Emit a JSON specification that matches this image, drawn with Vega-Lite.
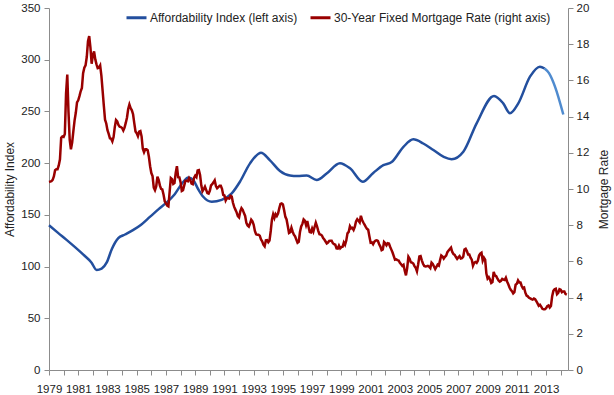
{
"$schema":"https://vega.github.io/schema/vega-lite/v6.json",
"width":519,"height":362,
"autosize":{"type":"none"},
"padding":{"left":49,"top":8,"right":46,"bottom":25},
"config":{"font":"Liberation Sans","view":{"stroke":null},
"axis":{"grid":false,"domainColor":"#8c8c8c","tickColor":"#8c8c8c","labelColor":"#222222","labelFontSize":11.5,"titleFontSize":12,"titleFontWeight":"normal","titleColor":"#222222","tickSize":5}},
"datasets":{
"aff":[
{"t":1979.0,"v":140},{"t":1979.6,"v":132.8},{"t":1980.2,"v":125.8},{"t":1980.8,"v":118.5},{"t":1981.35,"v":111.5},{"t":1981.9,"v":104},{"t":1982.26,"v":96.7},{"t":1982.6,"v":98},{"t":1982.95,"v":104},{"t":1983.3,"v":117},{"t":1983.74,"v":127.5},{"t":1984.2,"v":131},{"t":1984.77,"v":135.5},{"t":1985.3,"v":140.5},{"t":1985.9,"v":148},{"t":1986.5,"v":155.5},{"t":1987.05,"v":162},{"t":1987.6,"v":170},{"t":1988.19,"v":182},{"t":1988.53,"v":186},{"t":1988.87,"v":183.5},{"t":1989.2,"v":175},{"t":1989.55,"v":167.5},{"t":1990.13,"v":162.7},{"t":1990.81,"v":164.5},{"t":1991.5,"v":170.8},{"t":1992.06,"v":182},{"t":1992.75,"v":199.8},{"t":1993.5,"v":210.1},{"t":1994.1,"v":203},{"t":1994.8,"v":192.5},{"t":1995.48,"v":188},{"t":1996.0,"v":187.5},{"t":1996.63,"v":188},{"t":1997.31,"v":183.7},{"t":1997.99,"v":190},{"t":1998.9,"v":200},{"t":1999.59,"v":195},{"t":2000.46,"v":182},{"t":2001.18,"v":190.5},{"t":2001.87,"v":198},{"t":2002.44,"v":201},{"t":2003.23,"v":215.5},{"t":2003.92,"v":223},{"t":2004.6,"v":219},{"t":2005.29,"v":212.7},{"t":2006.0,"v":206},{"t":2006.54,"v":203.7},{"t":2007.34,"v":211},{"t":2008.25,"v":238.5},{"t":2009.44,"v":265},{"t":2010.07,"v":257.8},{"t":2010.53,"v":248.2},{"t":2011.1,"v":257.8},{"t":2011.9,"v":283.6},{"t":2012.58,"v":293.3},{"t":2012.9,"v":291.5}
],
"aff2":[
{"t":2012.9,"v":291.5},{"t":2013.2,"v":287},{"t":2013.61,"v":274},{"t":2014.18,"v":247}
],
"rate":[
{"t":1979.000,"r":10.39},{"t":1979.083,"r":10.41},{"t":1979.167,"r":10.43},{"t":1979.250,"r":10.50},{"t":1979.333,"r":10.69},{"t":1979.417,"r":11.04},{"t":1979.500,"r":11.09},{"t":1979.583,"r":11.09},{"t":1979.667,"r":11.30},{"t":1979.750,"r":11.64},{"t":1979.833,"r":12.83},{"t":1979.917,"r":12.90},
{"t":1980.000,"r":12.88},{"t":1980.083,"r":13.04},{"t":1980.167,"r":15.28},{"t":1980.250,"r":16.32},{"t":1980.333,"r":14.26},{"t":1980.417,"r":12.71},{"t":1980.500,"r":12.19},{"t":1980.583,"r":12.56},{"t":1980.667,"r":13.20},{"t":1980.750,"r":13.79},{"t":1980.833,"r":14.21},{"t":1980.917,"r":14.79},
{"t":1981.000,"r":14.90},{"t":1981.083,"r":15.13},{"t":1981.167,"r":15.40},{"t":1981.250,"r":15.58},{"t":1981.333,"r":16.40},{"t":1981.417,"r":16.70},{"t":1981.500,"r":16.83},{"t":1981.583,"r":17.29},{"t":1981.667,"r":18.16},{"t":1981.750,"r":18.45},{"t":1981.833,"r":17.83},{"t":1981.917,"r":16.92},
{"t":1982.000,"r":17.40},{"t":1982.083,"r":17.60},{"t":1982.167,"r":17.16},{"t":1982.250,"r":16.89},{"t":1982.333,"r":16.68},{"t":1982.417,"r":16.70},{"t":1982.500,"r":16.82},{"t":1982.583,"r":16.27},{"t":1982.667,"r":15.43},{"t":1982.750,"r":14.61},{"t":1982.833,"r":13.83},{"t":1982.917,"r":13.62},
{"t":1983.000,"r":13.25},{"t":1983.083,"r":13.04},{"t":1983.167,"r":12.80},{"t":1983.250,"r":12.78},{"t":1983.333,"r":12.63},{"t":1983.417,"r":12.87},{"t":1983.500,"r":13.42},{"t":1983.583,"r":13.81},{"t":1983.667,"r":13.73},{"t":1983.750,"r":13.54},{"t":1983.833,"r":13.44},{"t":1983.917,"r":13.42},
{"t":1984.000,"r":13.37},{"t":1984.083,"r":13.23},{"t":1984.167,"r":13.39},{"t":1984.250,"r":13.65},{"t":1984.333,"r":13.94},{"t":1984.417,"r":14.42},{"t":1984.500,"r":14.67},{"t":1984.583,"r":14.47},{"t":1984.667,"r":14.35},{"t":1984.750,"r":14.13},{"t":1984.833,"r":13.64},{"t":1984.917,"r":13.18},
{"t":1985.000,"r":13.08},{"t":1985.083,"r":12.92},{"t":1985.167,"r":13.17},{"t":1985.250,"r":13.20},{"t":1985.333,"r":12.91},{"t":1985.417,"r":12.22},{"t":1985.500,"r":12.03},{"t":1985.583,"r":12.19},{"t":1985.667,"r":12.19},{"t":1985.750,"r":12.14},{"t":1985.833,"r":11.78},{"t":1985.917,"r":11.26},
{"t":1986.000,"r":10.88},{"t":1986.083,"r":10.71},{"t":1986.167,"r":10.08},{"t":1986.250,"r":9.94},{"t":1986.333,"r":10.14},{"t":1986.417,"r":10.68},{"t":1986.500,"r":10.51},{"t":1986.583,"r":10.20},{"t":1986.667,"r":10.01},{"t":1986.750,"r":9.98},{"t":1986.833,"r":9.70},{"t":1986.917,"r":9.32},
{"t":1987.000,"r":9.20},{"t":1987.083,"r":9.08},{"t":1987.167,"r":9.04},{"t":1987.250,"r":9.83},{"t":1987.333,"r":10.60},{"t":1987.417,"r":10.54},{"t":1987.500,"r":10.28},{"t":1987.583,"r":10.33},{"t":1987.667,"r":10.89},{"t":1987.750,"r":11.26},{"t":1987.833,"r":10.65},{"t":1987.917,"r":10.64},
{"t":1988.000,"r":10.38},{"t":1988.083,"r":9.89},{"t":1988.167,"r":9.93},{"t":1988.250,"r":10.20},{"t":1988.333,"r":10.46},{"t":1988.417,"r":10.46},{"t":1988.500,"r":10.43},{"t":1988.583,"r":10.60},{"t":1988.667,"r":10.48},{"t":1988.750,"r":10.30},{"t":1988.833,"r":10.27},{"t":1988.917,"r":10.61},
{"t":1989.000,"r":10.73},{"t":1989.083,"r":10.65},{"t":1989.167,"r":11.03},{"t":1989.250,"r":11.05},{"t":1989.333,"r":10.77},{"t":1989.417,"r":10.20},{"t":1989.500,"r":9.88},{"t":1989.583,"r":9.99},{"t":1989.667,"r":10.13},{"t":1989.750,"r":9.95},{"t":1989.833,"r":9.77},{"t":1989.917,"r":9.74},
{"t":1990.000,"r":9.90},{"t":1990.083,"r":10.20},{"t":1990.167,"r":10.27},{"t":1990.250,"r":10.37},{"t":1990.333,"r":10.48},{"t":1990.417,"r":10.16},{"t":1990.500,"r":10.04},{"t":1990.583,"r":10.10},{"t":1990.667,"r":10.18},{"t":1990.750,"r":10.18},{"t":1990.833,"r":10.01},{"t":1990.917,"r":9.67},
{"t":1991.000,"r":9.64},{"t":1991.083,"r":9.37},{"t":1991.167,"r":9.50},{"t":1991.250,"r":9.49},{"t":1991.333,"r":9.47},{"t":1991.417,"r":9.62},{"t":1991.500,"r":9.58},{"t":1991.583,"r":9.24},{"t":1991.667,"r":9.01},{"t":1991.750,"r":8.86},{"t":1991.833,"r":8.71},{"t":1991.917,"r":8.50},
{"t":1992.000,"r":8.43},{"t":1992.083,"r":8.76},{"t":1992.167,"r":8.94},{"t":1992.250,"r":8.85},{"t":1992.333,"r":8.67},{"t":1992.417,"r":8.51},{"t":1992.500,"r":8.13},{"t":1992.583,"r":7.98},{"t":1992.667,"r":7.92},{"t":1992.750,"r":8.09},{"t":1992.833,"r":8.31},{"t":1992.917,"r":8.22},
{"t":1993.000,"r":8.02},{"t":1993.083,"r":7.68},{"t":1993.167,"r":7.50},{"t":1993.250,"r":7.47},{"t":1993.333,"r":7.47},{"t":1993.417,"r":7.42},{"t":1993.500,"r":7.21},{"t":1993.583,"r":7.11},{"t":1993.667,"r":6.92},{"t":1993.750,"r":6.83},{"t":1993.833,"r":7.16},{"t":1993.917,"r":7.17},
{"t":1994.000,"r":7.06},{"t":1994.083,"r":7.15},{"t":1994.167,"r":7.68},{"t":1994.250,"r":8.32},{"t":1994.333,"r":8.60},{"t":1994.417,"r":8.40},{"t":1994.500,"r":8.61},{"t":1994.583,"r":8.51},{"t":1994.667,"r":8.64},{"t":1994.750,"r":8.93},{"t":1994.833,"r":9.17},{"t":1994.917,"r":9.20},
{"t":1995.000,"r":9.15},{"t":1995.083,"r":8.83},{"t":1995.167,"r":8.46},{"t":1995.250,"r":8.32},{"t":1995.333,"r":7.96},{"t":1995.417,"r":7.57},{"t":1995.500,"r":7.61},{"t":1995.583,"r":7.86},{"t":1995.667,"r":7.64},{"t":1995.750,"r":7.48},{"t":1995.833,"r":7.38},{"t":1995.917,"r":7.20},
{"t":1996.000,"r":7.03},{"t":1996.083,"r":7.08},{"t":1996.167,"r":7.62},{"t":1996.250,"r":7.93},{"t":1996.333,"r":8.07},{"t":1996.417,"r":8.32},{"t":1996.500,"r":8.25},{"t":1996.583,"r":8.00},{"t":1996.667,"r":8.23},{"t":1996.750,"r":7.92},{"t":1996.833,"r":7.62},{"t":1996.917,"r":7.60},
{"t":1997.000,"r":7.82},{"t":1997.083,"r":7.65},{"t":1997.167,"r":7.90},{"t":1997.250,"r":8.14},{"t":1997.333,"r":7.94},{"t":1997.417,"r":7.69},{"t":1997.500,"r":7.50},{"t":1997.583,"r":7.48},{"t":1997.667,"r":7.43},{"t":1997.750,"r":7.29},{"t":1997.833,"r":7.21},{"t":1997.917,"r":7.10},
{"t":1998.000,"r":6.99},{"t":1998.083,"r":7.04},{"t":1998.167,"r":7.13},{"t":1998.250,"r":7.14},{"t":1998.333,"r":7.14},{"t":1998.417,"r":7.00},{"t":1998.500,"r":6.95},{"t":1998.583,"r":6.92},{"t":1998.667,"r":6.72},{"t":1998.750,"r":6.71},{"t":1998.833,"r":6.87},{"t":1998.917,"r":6.72},
{"t":1999.000,"r":6.79},{"t":1999.083,"r":6.81},{"t":1999.167,"r":7.04},{"t":1999.250,"r":6.92},{"t":1999.333,"r":7.15},{"t":1999.417,"r":7.55},{"t":1999.500,"r":7.63},{"t":1999.583,"r":7.94},{"t":1999.667,"r":7.82},{"t":1999.750,"r":7.85},{"t":1999.833,"r":7.74},{"t":1999.917,"r":7.91},
{"t":2000.000,"r":8.21},{"t":2000.083,"r":8.33},{"t":2000.167,"r":8.24},{"t":2000.250,"r":8.15},{"t":2000.333,"r":8.52},{"t":2000.417,"r":8.29},{"t":2000.500,"r":8.15},{"t":2000.583,"r":8.03},{"t":2000.667,"r":7.91},{"t":2000.750,"r":7.80},{"t":2000.833,"r":7.75},{"t":2000.917,"r":7.38},
{"t":2001.000,"r":7.03},{"t":2001.083,"r":7.05},{"t":2001.167,"r":6.95},{"t":2001.250,"r":7.08},{"t":2001.333,"r":7.15},{"t":2001.417,"r":7.16},{"t":2001.500,"r":7.13},{"t":2001.583,"r":6.95},{"t":2001.667,"r":6.82},{"t":2001.750,"r":6.62},{"t":2001.833,"r":6.66},{"t":2001.917,"r":7.07},
{"t":2002.000,"r":7.00},{"t":2002.083,"r":6.89},{"t":2002.167,"r":7.01},{"t":2002.250,"r":6.99},{"t":2002.333,"r":6.81},{"t":2002.417,"r":6.65},{"t":2002.500,"r":6.49},{"t":2002.583,"r":6.29},{"t":2002.667,"r":6.09},{"t":2002.750,"r":6.11},{"t":2002.833,"r":6.07},{"t":2002.917,"r":6.05},
{"t":2003.000,"r":5.92},{"t":2003.083,"r":5.84},{"t":2003.167,"r":5.75},{"t":2003.250,"r":5.81},{"t":2003.333,"r":5.48},{"t":2003.417,"r":5.23},{"t":2003.500,"r":5.63},{"t":2003.583,"r":6.26},{"t":2003.667,"r":6.15},{"t":2003.750,"r":5.95},{"t":2003.833,"r":5.93},{"t":2003.917,"r":5.88},
{"t":2004.000,"r":5.74},{"t":2004.083,"r":5.64},{"t":2004.167,"r":5.45},{"t":2004.250,"r":5.83},{"t":2004.333,"r":6.27},{"t":2004.417,"r":6.29},{"t":2004.500,"r":6.06},{"t":2004.583,"r":5.87},{"t":2004.667,"r":5.75},{"t":2004.750,"r":5.72},{"t":2004.833,"r":5.73},{"t":2004.917,"r":5.75},
{"t":2005.000,"r":5.71},{"t":2005.083,"r":5.63},{"t":2005.167,"r":5.93},{"t":2005.250,"r":5.86},{"t":2005.333,"r":5.72},{"t":2005.417,"r":5.58},{"t":2005.500,"r":5.70},{"t":2005.583,"r":5.82},{"t":2005.667,"r":5.77},{"t":2005.750,"r":6.07},{"t":2005.833,"r":6.33},{"t":2005.917,"r":6.27},
{"t":2006.000,"r":6.15},{"t":2006.083,"r":6.25},{"t":2006.167,"r":6.32},{"t":2006.250,"r":6.51},{"t":2006.333,"r":6.60},{"t":2006.417,"r":6.68},{"t":2006.500,"r":6.76},{"t":2006.583,"r":6.52},{"t":2006.667,"r":6.40},{"t":2006.750,"r":6.36},{"t":2006.833,"r":6.24},{"t":2006.917,"r":6.14},
{"t":2007.000,"r":6.22},{"t":2007.083,"r":6.29},{"t":2007.167,"r":6.16},{"t":2007.250,"r":6.18},{"t":2007.333,"r":6.26},{"t":2007.417,"r":6.66},{"t":2007.500,"r":6.70},{"t":2007.583,"r":6.57},{"t":2007.667,"r":6.38},{"t":2007.750,"r":6.38},{"t":2007.833,"r":6.21},{"t":2007.917,"r":6.10},
{"t":2008.000,"r":5.76},{"t":2008.083,"r":5.92},{"t":2008.167,"r":5.97},{"t":2008.250,"r":5.92},{"t":2008.333,"r":6.04},{"t":2008.417,"r":6.32},{"t":2008.500,"r":6.43},{"t":2008.583,"r":6.48},{"t":2008.667,"r":6.04},{"t":2008.750,"r":6.20},{"t":2008.833,"r":6.09},{"t":2008.917,"r":5.33},
{"t":2009.000,"r":5.05},{"t":2009.083,"r":5.13},{"t":2009.167,"r":5.00},{"t":2009.250,"r":4.81},{"t":2009.333,"r":4.86},{"t":2009.417,"r":5.42},{"t":2009.500,"r":5.22},{"t":2009.583,"r":5.19},{"t":2009.667,"r":5.06},{"t":2009.750,"r":4.95},{"t":2009.833,"r":4.88},{"t":2009.917,"r":4.93},
{"t":2010.000,"r":5.03},{"t":2010.083,"r":4.99},{"t":2010.167,"r":4.97},{"t":2010.250,"r":5.10},{"t":2010.333,"r":4.89},{"t":2010.417,"r":4.74},{"t":2010.500,"r":4.56},{"t":2010.583,"r":4.43},{"t":2010.667,"r":4.35},{"t":2010.750,"r":4.23},{"t":2010.833,"r":4.30},{"t":2010.917,"r":4.71},
{"t":2011.000,"r":4.76},{"t":2011.083,"r":4.95},{"t":2011.167,"r":4.84},{"t":2011.250,"r":4.84},{"t":2011.333,"r":4.64},{"t":2011.417,"r":4.51},{"t":2011.500,"r":4.55},{"t":2011.583,"r":4.27},{"t":2011.667,"r":4.11},{"t":2011.750,"r":4.07},{"t":2011.833,"r":3.99},{"t":2011.917,"r":3.96},
{"t":2012.000,"r":3.92},{"t":2012.083,"r":3.89},{"t":2012.167,"r":3.95},{"t":2012.250,"r":3.91},{"t":2012.333,"r":3.80},{"t":2012.417,"r":3.68},{"t":2012.500,"r":3.55},{"t":2012.583,"r":3.60},{"t":2012.667,"r":3.50},{"t":2012.750,"r":3.38},{"t":2012.833,"r":3.35},{"t":2012.917,"r":3.35},
{"t":2013.000,"r":3.41},{"t":2013.083,"r":3.53},{"t":2013.167,"r":3.57},{"t":2013.250,"r":3.45},{"t":2013.333,"r":3.54},{"t":2013.417,"r":4.07},{"t":2013.500,"r":4.37},{"t":2013.583,"r":4.46},{"t":2013.667,"r":4.49},{"t":2013.750,"r":4.19},{"t":2013.833,"r":4.26},{"t":2013.917,"r":4.46},
{"t":2014.000,"r":4.43},{"t":2014.083,"r":4.30},{"t":2014.167,"r":4.34},{"t":2014.250,"r":4.34},{"t":2014.333,"r":4.19},{"t":2014.417,"r":4.16}
]
},
"encoding":{
"x":{"field":"t","type":"quantitative","scale":{"domain":[1979,2014.5],"nice":false,"zero":false},
"axis":{"title":null,"values":[1979,1980,1981,1982,1983,1984,1985,1986,1987,1988,1989,1990,1991,1992,1993,1994,1995,1996,1997,1998,1999,2000,2001,2002,2003,2004,2005,2006,2007,2008,2009,2010,2011,2012,2013,2014],"format":"d","labelExpr":"datum.value % 2 == 1 ? datum.label : ''","labelOverlap":false,"labelFlush":false,"labelPadding":8}},
"color":{"scale":{"domain":["Affordability Index (left axis)","30-Year Fixed Mortgage Rate (right axis)","Projected"],"range":["#234f9e","#990000","#4f8bcf"]},
"legend":{"title":null,"values":["Affordability Index (left axis)","30-Year Fixed Mortgage Rate (right axis)"],"orient":"none","direction":"horizontal","legendX":76,"legendY":-2,"symbolType":"stroke","symbolSize":400,"symbolStrokeWidth":3,"labelFontSize":12,"labelLimit":0,"labelColor":"#222222","labelOffset":2,"columnPadding":6,"padding":0}}
},
"layer":[
{"layer":[
{"data":{"name":"aff"},"mark":{"type":"line","interpolate":"monotone","strokeWidth":2.5},
"encoding":{"y":{"field":"v","type":"quantitative","scale":{"domain":[0,350],"nice":false},"axis":{"title":"Affordability Index","values":[0,50,100,150,200,250,300,350],"labelPadding":4,"titlePadding":4}},"color":{"datum":"Affordability Index (left axis)"}}},
{"data":{"name":"aff2"},"mark":{"type":"line","interpolate":"monotone","strokeWidth":2.5},
"encoding":{"y":{"field":"v","type":"quantitative"},"color":{"datum":"Projected"}}}
]},
{"data":{"name":"rate"},"mark":{"type":"line","strokeWidth":2.5},
"encoding":{"y":{"field":"r","type":"quantitative","scale":{"domain":[0,20],"nice":false},"axis":{"orient":"right","title":"Mortgage Rate","titleAngle":-90,"values":[0,2,4,6,8,10,12,14,16,18,20],"labelPadding":3,"titlePadding":22}},"color":{"datum":"30-Year Fixed Mortgage Rate (right axis)"}}}
],
"resolve":{"scale":{"y":"independent"}}
}
